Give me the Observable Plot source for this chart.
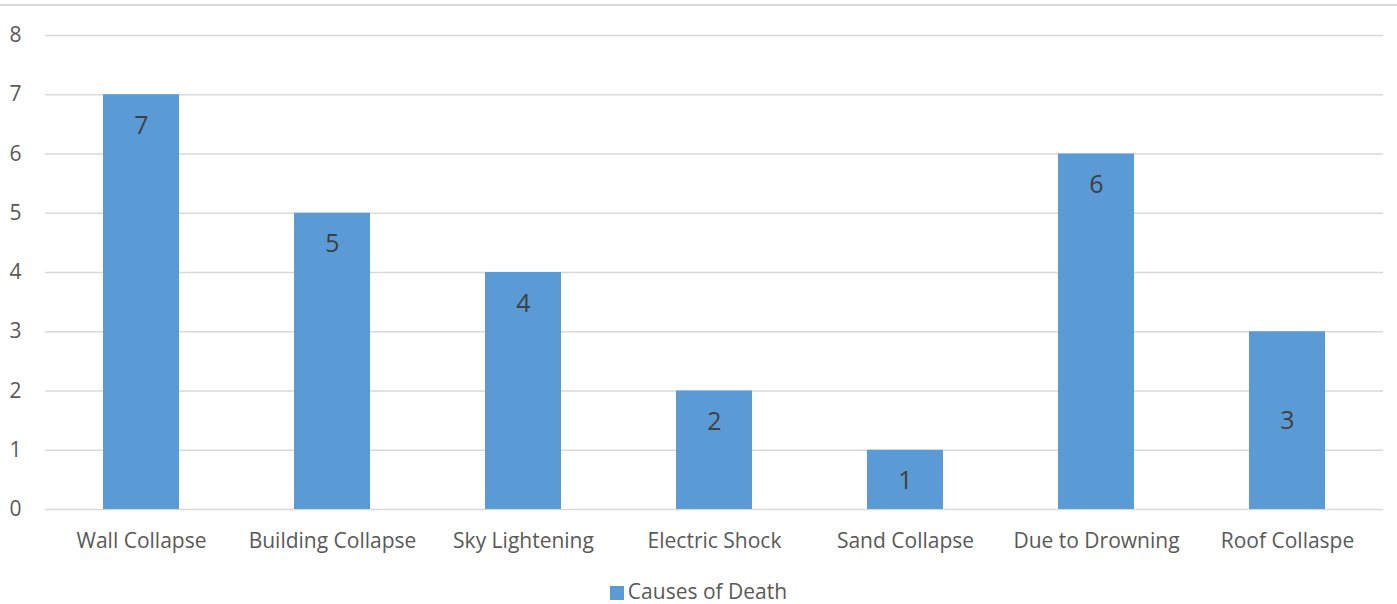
<!DOCTYPE html>
<html>
<head>
<meta charset="utf-8">
<script src="https://cdn.jsdelivr.net/npm/d3@7"></script>
<script src="https://cdn.jsdelivr.net/npm/@observablehq/plot@0.6"></script>
<style>
  body { margin: 0; background: #fff; font-family: "Open Sans", sans-serif; }
  #topline { height: 2px; margin-top: 4px; background: #d9d9d9; width: 1397px; }
  #legend { text-align: center; font-size: 21px; color: #595959; margin-top: 11px; line-height: 30px; }
  #legend span.sw { display: inline-block; width: 14px; height: 14px; background: #5b9bd5; margin-right: 4px; vertical-align: -1px; }
</style>
</head>
<body>
<div id="topline"></div>
<div id="chart"></div>
<div id="legend"><span class="sw"></span>Causes of Death</div>
<script>
const categories = ["Wall Collapse", "Building Collapse", "Sky Lightening", "Electric Shock", "Sand Collapse", "Due to Drowning", "Roof Collaspe"];
const values = [7, 5, 4, 2, 1, 6, 3];
const yTicks = [0, 1, 2, 3, 4, 5, 6, 7, 8];
const labelMiddle = [false, false, false, false, false, false, true];

const data = categories.map((c, i) => ({cause: c, value: values[i], middle: labelMiddle[i]}));

const chart = Plot.plot({
  width: 1397,
  height: 559,
  marginTop: 29,
  marginBottom: 56,
  marginLeft: 45,
  marginRight: 14,
  style: {fontFamily: "Open Sans, sans-serif", background: "#fff", overflow: "visible"},
  x: {domain: categories, paddingInner: 0.6, paddingOuter: 0.3, label: null},
  y: {domain: [0, 8], ticks: yTicks, label: null},
  marks: [
    Plot.ruleY(yTicks, {stroke: "#d9d9d9", strokeWidth: 1.5}),
    Plot.barY(data, {x: "cause", y: "value", fill: "#5b9bd5"}),
    Plot.text(data.filter(d => !d.middle), {x: "cause", y: "value", text: d => String(d.value), dy: 31, fill: "#404040", fontSize: 25}),
    Plot.text(data.filter(d => d.middle), {x: "cause", y: d => d.value / 2, text: d => String(d.value), fill: "#404040", fontSize: 25}),
    Plot.axisX({tickSize: 0, tickPadding: 24, fontSize: 21, fill: "#595959"}),
    Plot.axisY({ticks: yTicks, tickSize: 0, tickPadding: 24, fontSize: 21, fill: "#595959"})
  ]
});
document.getElementById("chart").appendChild(chart);
</script>
</body>
</html>
